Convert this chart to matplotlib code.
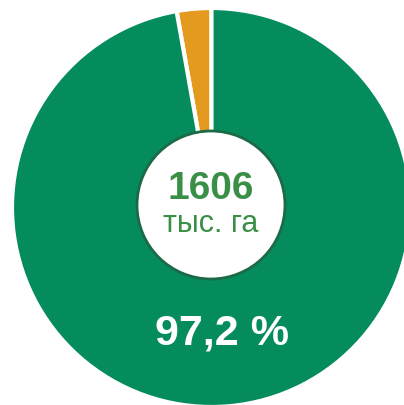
import matplotlib
matplotlib.use("Agg")
import matplotlib.pyplot as plt
from matplotlib.patches import Circle

# Data
categories = ["Прочее", "Основная доля"]
shares = [2.8, 97.2]
colors = ["#E39A1E", "#058C5D"]
center_value = "1606"
center_unit = "тыс. га"
share_label = "97,2 %"

W, H = 404, 406
fig = plt.figure(figsize=(W / 100, H / 100), dpi=100)
ax = fig.add_axes([0, 0, 1, 1])

cx, cy, r = 211.5, H - 208.5, 199.5
ax.pie(shares, colors=colors, startangle=90, counterclock=True,
       center=(cx, cy), radius=r, frame=True,
       wedgeprops=dict(edgecolor="white", linewidth=3))

ax.add_patch(Circle((211, H - 206), 74, facecolor="white",
                    edgecolor="#1B6A45", linewidth=2, zorder=5))

fam = ["Liberation Sans", "DejaVu Sans"]
ax.text(211, H - 189, center_value, ha="center", va="center", fontsize=28,
        fontweight="bold", color="#3A8F47", family=fam, zorder=6)
ax.text(211, H - 224, center_unit, ha="center", va="center", fontsize=22,
        color="#3A8F47", family=fam, zorder=6)
ax.text(222, H - 334, share_label, ha="center", va="center", fontsize=31,
        fontweight="bold", color="white", family=fam, zorder=6)

ax.set_xlim(0, W)
ax.set_ylim(0, H)
ax.set_aspect("auto")
ax.axis("off")
fig.savefig("out.png", dpi=100)
